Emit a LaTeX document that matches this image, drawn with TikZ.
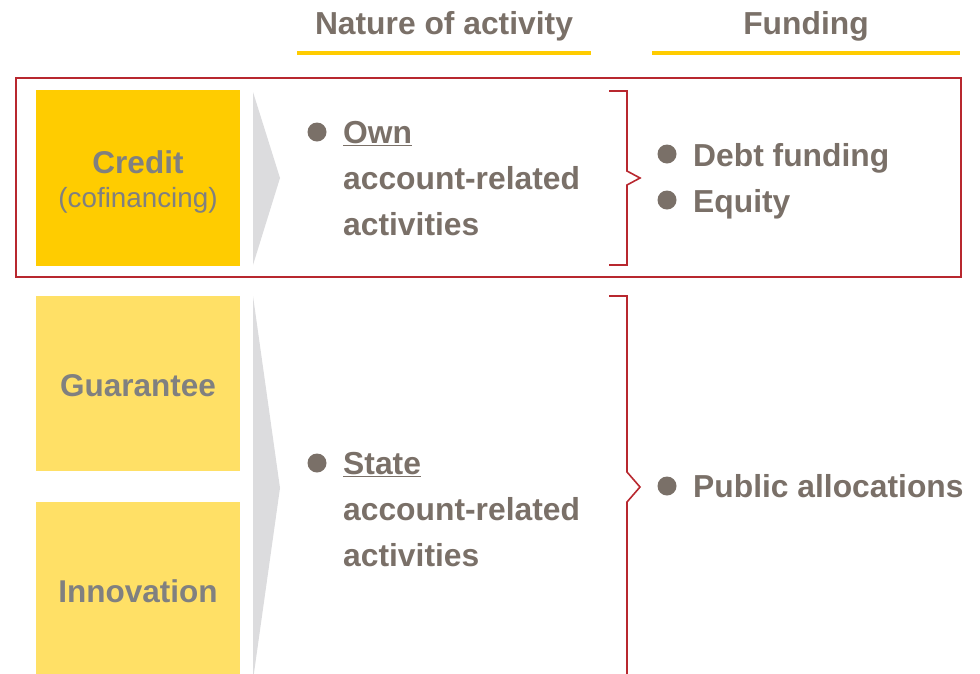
\documentclass[tikz,border=0pt]{standalone}
\usepackage{fontspec}
\setmainfont{Liberation Sans}
\definecolor{txt}{HTML}{7A7068}
\definecolor{boxtxt}{HTML}{808080}
\definecolor{ylw}{HTML}{FFCC00}
\definecolor{lylw}{HTML}{FFE066}
\definecolor{redc}{HTML}{B8282F}
\definecolor{chev}{HTML}{DCDCDE}
\newcommand{\ul}[1]{\underline{#1}}
\begin{document}
\begin{tikzpicture}[x=1pt,y=-1pt,
  hdr/.style={font=\fontsize{31.8}{37}\selectfont\bfseries, text=txt, inner sep=0pt, anchor=base},
  body/.style={font=\fontsize{31.8}{37}\selectfont\bfseries, text=txt, inner sep=0pt, anchor=base west},
  dotnode/.style={circle, fill=txt, minimum size=19pt, inner sep=0pt},
  catbox/.style={inner sep=0pt, minimum width=204pt},
  cattxt/.style={font=\fontsize{31.5}{37}\selectfont\bfseries, text=boxtxt, inner sep=0pt, anchor=base},
  catsub/.style={font=\fontsize{27.8}{33}\selectfont, text=boxtxt, inner sep=0pt, anchor=base},
  hline/.style={draw=ylw, line width=4pt},
  chevron/.style={fill=chev},
  brace/.style={draw=redc, line width=1.6pt},
  frame/.style={draw=redc, line width=2.7pt}
]
\useasboundingbox (0,0) rectangle (980,673);
\clip (0,0) rectangle (980,673);

% headers
\node[hdr] (h1) at (444,34) {Nature of activity};
\node[hdr] (h2) at (806,34) {Funding};
\coordinate (u1a) at (297,53); \coordinate (u1b) at (591,53);
\coordinate (u2a) at (652,53); \coordinate (u2b) at (960,53);
\draw[hline] (u1a) -- (u1b);
\draw[hline] (u2a) -- (u2b);

% red frame
\node[frame, minimum width=945pt, minimum height=199pt, inner sep=0pt] (fr) at (488.5,177.5) {};

% category boxes
\node[catbox, fill=ylw, minimum height=176pt] (credit) at (138,178) {};
\node[catbox, fill=lylw, minimum height=175pt] (guar) at (138,383.5) {};
\node[catbox, fill=lylw, minimum height=176pt] (innov) at (138,590) {};
\node[cattxt] (tcredit) at (138,173) {Credit};
\node[catsub] (tcof) at (138,207) {(cofinancing)};
\node[cattxt] (tguar) at (138,396) {Guarantee};
\node[cattxt] (tinnov) at (138,602) {Innovation};

% chevrons
\fill[chevron] (253,92) -- (280,178) -- (253,265) -- cycle;
\fill[chevron] (253,296) -- (280,488) -- (253,680) -- cycle;

% nature of activity
\node[dotnode] (d1) at (317,132) {};
\node[body] (own1) at (343,143) {\ul{Own}};
\node[body] (own2) at (343,189) {account-related};
\node[body] (own3) at (343,235) {activities};
\node[dotnode] (d2) at (317,463) {};
\node[body] (st1) at (343,474) {\ul{State}};
\node[body] (st2) at (343,520) {account-related};
\node[body] (st3) at (343,566) {activities};

% braces
\draw[brace] (609,91) -- (627,91) -- (627,171) -- (640,178) -- (627,185) -- (627,265) -- (609,265);
\draw[brace] (609,296) -- (627,296) -- (627,472) -- (640,487) -- (627,502) -- (627,690);

% funding
\node[dotnode] (d3) at (667,154) {};
\node[body] (f1) at (693,166) {Debt funding};
\node[dotnode] (d4) at (667,200) {};
\node[body] (f2) at (693,212) {Equity};
\node[dotnode] (d5) at (667,486) {};
\node[body] (f3) at (693,497) {Public allocations};
\end{tikzpicture}
\end{document}
